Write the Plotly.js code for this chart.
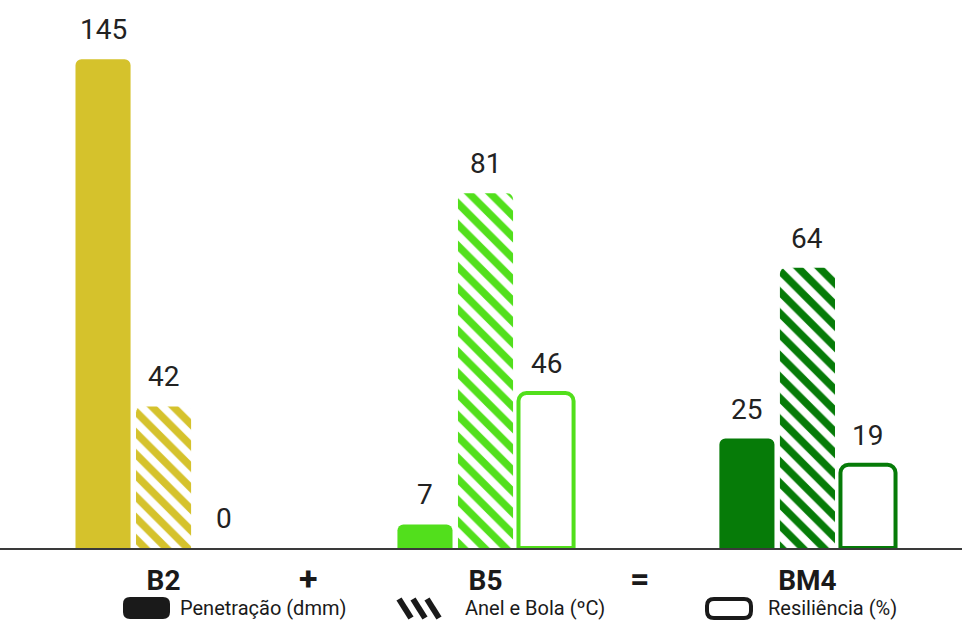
<!DOCTYPE html>
<html>
<head>
<meta charset="utf-8">
<script src="https://cdn.plot.ly/plotly-3.0.1.min.js"></script>
<style>
  html, body { margin: 0; padding: 0; background: #ffffff; }
  #chart { width: 962px; height: 624px; }
</style>
</head>
<body>
<div id="chart"></div>
<script>
// ---------------- DATA ----------------
const groups = ['B2', 'B5', 'BM4'];
const penetracao = [145, 7, 25];
const anelBola = [42, 81, 64];
const resiliencia = [0, 46, 19];
const seriesNames = ['Penetração (dmm)', 'Anel e Bola (ºC)', 'Resiliência (%)'];
const operators = ['+', '='];

// ---------------- STYLE ----------------
const series = [penetracao, anelBola, resiliencia];
const groupColors = ['#d5c22c', '#52df1c', '#067b08'];
// the source infographic draws its bars on two different vertical scales
const axisOf = [
  ['y', 'y', 'y2'],   // Penetração
  ['y', 'y2', 'y2'],  // Anel e Bola
  ['y', 'y', 'y2']    // Resiliência
];
const W = 962, H = 624, MB = 76;
const plotH = H - MB;
const bargap = 0.436, bargroupgap = 0.09;
const slot = (1 - bargap) / 3;
const textColor = '#222222';
const FONT = 'Roboto, "Noto Sans", sans-serif';

const traces = [];
const annotations = [];
series.forEach((vals, s) => {
  vals.forEach((v, g) => {
    const c = groupColors[g];
    let marker;
    if (s === 0) {
      marker = { color: c, cornerradius: 6, line: { width: 0 } };
    } else if (s === 1) {
      marker = { color: c, cornerradius: 6, line: { width: 0 },
        pattern: { shape: '\\', fgcolor: c, bgcolor: '#ffffff', size: 15, solidity: 0.5, fillmode: 'replace' } };
    } else {
      marker = { color: '#ffffff', cornerradius: 8, line: { color: c, width: v === 0 ? 0 : 4 } };
    }
    traces.push({
      type: 'bar',
      name: seriesNames[s],
      x: [groups[g]],
      y: [v],
      yaxis: axisOf[s][g],
      offsetgroup: String(s),
      alignmentgroup: 'all',
      marker: marker,
      showlegend: false,
      hovertemplate: groups[g] + ' – ' + seriesNames[s] + ': %{y}<extra></extra>'
    });
    annotations.push({
      x: g + (s - 1) * slot,
      xref: 'x',
      y: v,
      yref: axisOf[s][g],
      yanchor: 'bottom',
      yshift: 11,
      text: String(v),
      showarrow: false,
      font: { family: FONT, size: 28, color: textColor }
    });
  });
});

// operators between groups
const opX = [0.45, 1.48];
operators.forEach((op, i) => {
  annotations.push({
    x: opX[i], xref: 'x', y: (plotH - 578) / plotH, yref: 'paper',
    yanchor: 'middle', text: op, showarrow: false,
    font: { family: FONT, size: 34, color: '#1a1a1a', weight: 'bold' }
  });
});

// ---------------- CUSTOM LEGEND ----------------
const px = x => x / W;
const py = y => (plotH - y) / plotH;
function roundRect(x0, y0, x1, y1, r) {
  return `M ${px(x0 + r)},${py(y0)} L ${px(x1 - r)},${py(y0)} Q ${px(x1)},${py(y0)} ${px(x1)},${py(y0 + r)} ` +
         `L ${px(x1)},${py(y1 - r)} Q ${px(x1)},${py(y1)} ${px(x1 - r)},${py(y1)} ` +
         `L ${px(x0 + r)},${py(y1)} Q ${px(x0)},${py(y1)} ${px(x0)},${py(y1 - r)} ` +
         `L ${px(x0)},${py(y0 + r)} Q ${px(x0)},${py(y0)} ${px(x0 + r)},${py(y0)} Z`;
}
const legY = 608;
const shapes = [
  { type: 'path', xref: 'paper', yref: 'paper', path: roundRect(123, 597, 170, 619, 7),
    fillcolor: '#1a1a1a', line: { width: 0 } },
  { type: 'path', xref: 'paper', yref: 'paper', path: roundRect(707, 599, 751, 618, 7),
    fillcolor: 'rgba(0,0,0,0)', line: { color: '#1a1a1a', width: 4 } }
];
[399, 413, 427].forEach(x0 => {
  shapes.push({ type: 'line', xref: 'paper', yref: 'paper',
    x0: px(x0), y0: py(599), x1: px(x0 + 12), y1: py(618),
    line: { color: '#1a1a1a', width: 6 } });
});
const legTextX = [178, 463, 766];
seriesNames.forEach((n, i) => {
  annotations.push({
    x: px(legTextX[i]), xref: 'paper', y: py(legY), yref: 'paper',
    xanchor: 'left', yanchor: 'middle', text: n, showarrow: false,
    font: { family: FONT, size: 20, color: '#1a1a1a' }
  });
});

const layout = {
  width: W, height: H,
  margin: { l: 0, r: 0, t: 0, b: MB, pad: 0 },
  paper_bgcolor: '#ffffff', plot_bgcolor: '#ffffff',
  barmode: 'group', bargap: bargap, bargroupgap: bargroupgap,
  showlegend: false,
  font: { family: FONT, color: textColor },
  xaxis: {
    type: 'category', categoryorder: 'array', categoryarray: groups,
    range: [-0.508, 2.48],
    showline: true, linecolor: '#3a3a3a', linewidth: 2,
    ticks: '', showgrid: false, zeroline: false,
    ticklabelstandoff: 6,
    tickfont: { family: FONT, size: 28, color: '#1a1a1a', weight: 'bold' }
  },
  yaxis: { range: [0, plotH / 3.37], visible: false, showgrid: false, zeroline: false, fixedrange: true },
  yaxis2: { range: [0, plotH / 4.38], overlaying: 'y', visible: false, showgrid: false, zeroline: false, fixedrange: true },
  shapes: shapes,
  annotations: annotations
};

Plotly.newPlot('chart', traces, layout, { displayModeBar: false, staticPlot: true });
</script>
</body>
</html>
